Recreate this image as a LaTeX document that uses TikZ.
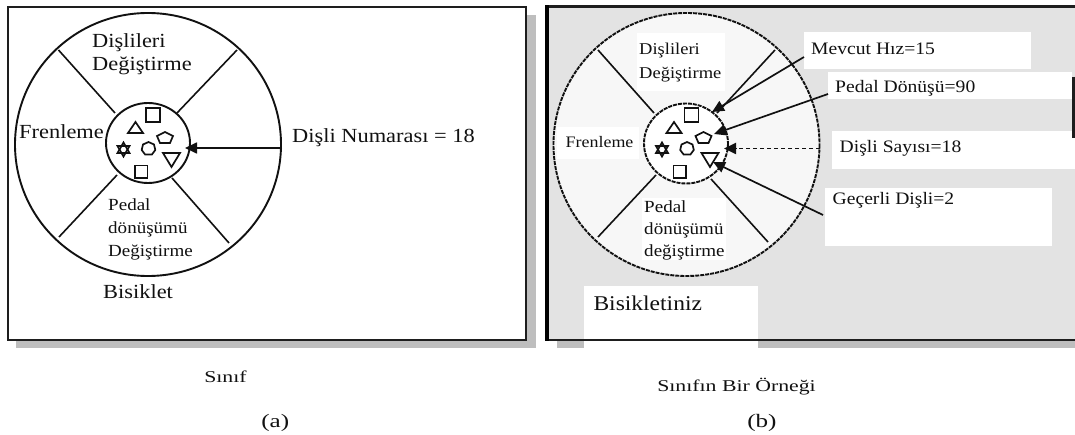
\documentclass[tikz,border=0pt]{standalone}
\usepackage{fontspec}
\setmainfont{Liberation Serif}
\usetikzlibrary{arrows.meta,shapes.geometric}

\definecolor{panelgrey}{HTML}{E3E3E3}
\definecolor{wheelfill}{HTML}{F7F7F7}
\definecolor{shadowgrey}{HTML}{BEBEBE}
\definecolor{framecol}{HTML}{1E1E1E}
\definecolor{inkcol}{HTML}{111111}

\tikzset{
  lbl/.style={inner sep=0pt, anchor=base west, text=inkcol, xscale=1.12},
  capt/.style={inner sep=0pt, anchor=base west, text=inkcol, xscale=1.32},
  fsa/.style={font=\fontsize{20}{23}\selectfont},
  fsb/.style={font=\fontsize{17}{20}\selectfont},
  fsc/.style={font=\fontsize{16.5}{20}\selectfont},
  fsd/.style={font=\fontsize{17.5}{20}\selectfont},
  fse/.style={font=\fontsize{16}{20}\selectfont},
  fsf/.style={font=\fontsize{21}{24}\selectfont},
  fsg/.style={font=\fontsize{16.5}{20}\selectfont},
  fsh/.style={font=\fontsize{19}{22}\selectfont},
  spoke/.style={draw=inkcol, line width=1.6pt},
  rim/.style={draw=inkcol, line width=1.9pt},
  rimdash/.style={draw=inkcol, line width=1.9pt, dash pattern=on 4pt off 1pt},
  glyph/.style={draw=inkcol, line width=1.7pt, line join=miter},
  pointer/.style={draw=inkcol, line width=1.7pt, -{Triangle[length=12pt,width=11pt]}},
  dotpointer/.style={draw=inkcol, line width=1.8pt, dash pattern=on 4pt off 3pt, -{Triangle[length=12pt,width=11pt]}},
  labelbox/.style={fill=white, draw=none},
}

% a text label whose base line starts at (#2,#3); #4 = label style, #5 = text
\newcommand\putlabel[5]{%
  \begin{scope}[shift={(#2,#3)}]
    \node[#4] (#1) at (0,0) {#5};
  \end{scope}}

% the small symbols held in the hub of a wheel; #1 shifts them sideways
\newcommand\hubsymbols[1]{%
  \begin{scope}[shift={(#1,0)}]
    \draw[glyph] (146,108) rectangle (160,122);
    \draw[glyph] (128,133) -- (143,133) -- (135.5,122) -- cycle;
    \draw[glyph] (165,132) -- (173,136) -- (170,143) -- (160,143) -- (157,136) -- cycle;
    \draw[glyph] (123.5,142.5) -- (129.5,153) -- (117.5,153) -- cycle;
    \draw[glyph] (123.5,156.5) -- (129.5,146) -- (117.5,146) -- cycle;
    \draw[glyph] (148.5,142) -- (154,144.5) -- (155.3,150) -- (151.8,154.6) -- (145.2,154.6) -- (141.7,150) -- (143,144.5) -- cycle;
    \draw[glyph] (163,153) -- (180,153) -- (171.5,167) -- cycle;
    \draw[glyph] (135,165.5) rectangle (147.5,178);
  \end{scope}}

\begin{document}
\begin{tikzpicture}[x=1pt,y=-1pt]
\useasboundingbox (0,0) rectangle (1075,435);
\fill[white] (0,0) rectangle (1075,435);

% ---------------- (a) the class ----------------
\fill[shadowgrey] (16,15) rectangle (536,348);
\fill[white] (8,7) rectangle (526,340);
\draw[framecol, line width=2.2pt] (8,7) rectangle (526,340);

\draw[spoke] (58.5,50) -- (115,113);
\draw[spoke] (237,50) -- (177,113);
\draw[spoke] (59,237) -- (117,175);
\draw[spoke] (229,243) -- (172,178);
\draw[rim] (148,144.5) ellipse [x radius=133, y radius=131.5];
\draw[rim, fill=white] (148,143) ellipse [x radius=42, y radius=40];
\hubsymbols{0}

\putlabel{aGear1}{92}{47.3}{lbl,fsa}{Dişlileri}
\putlabel{aGear2}{92}{71}{lbl,fsa}{Değiştirme}
\putlabel{aBrake}{19}{138.3}{lbl,fsa}{Frenleme}
\putlabel{aCount}{292}{142.7}{lbl,fsa}{Dişli Numarası = 18}
\putlabel{aPedal1}{108}{211}{lbl,fsb}{Pedal}
\putlabel{aPedal2}{108}{233.5}{lbl,fsb}{dönüşümü}
\putlabel{aPedal3}{108}{256.5}{lbl,fsb}{Değiştirme}
\putlabel{aBike}{103}{298.3}{lbl,fsa}{Bisiklet}

\coordinate (aFrom) at (282,148);
\coordinate (aTo) at (185,148);
\draw[pointer] (aFrom) -- (aTo);

% ---------------- (b) an instance ----------------
\fill[shadowgrey] (557,15) rectangle (1085,348);
\fill[panelgrey] (547,7) rectangle (1080,340);
\fill[wheelfill] (686.5,144.5) ellipse [x radius=133, y radius=131.5];

\fill[labelbox] (637,33) rectangle (725,91);
\fill[labelbox] (804,32) rectangle (1031,69);
\fill[labelbox] (828,72) rectangle (1072,99);
\fill[labelbox] (832,131) rectangle (1075,169);
\fill[labelbox] (825,188) rectangle (1052,246);
\fill[labelbox] (557,127) rectangle (639,159);
\fill[labelbox] (642,198) rectangle (726,260);
\fill[labelbox] (583.5,286) rectangle (758,349);

\draw[framecol, line width=2.2pt] (1080,6.5) -- (547,6.5) -- (547,340) -- (1080,340);
\draw[black, line width=3.2pt] (547,5.5) -- (547,341);
\draw[framecol, line width=2.2pt] (1073.5,77) -- (1073.5,138);

\draw[spoke] (598,50) -- (654,113);
\draw[spoke] (775,50) -- (717,113);
\draw[spoke] (598,237) -- (656,175);
\draw[spoke] (768,242) -- (711,179);
\draw[rimdash] (686.5,144.5) ellipse [x radius=133, y radius=131.5];
\draw[rimdash, fill=white] (686,143.5) ellipse [x radius=42, y radius=40];
\hubsymbols{538.5}

\putlabel{bGear1}{639}{55}{lbl,fsc}{Dişlileri}
\putlabel{bGear2}{639}{78.3}{lbl,fsc}{Değiştirme}
\putlabel{bSpeed}{811}{55}{lbl,fsd}{Mevcut Hız=15}
\putlabel{bCadence}{835}{92.7}{lbl,fsd}{Pedal Dönüşü=90}
\putlabel{bCount}{839.5}{152.3}{lbl,fsd}{Dişli Sayısı=18}
\putlabel{bCurrent}{832.5}{205}{lbl,fsd}{Geçerli Dişli=2}
\putlabel{bBrake}{565.5}{147.7}{lbl,fse}{Frenleme}
\putlabel{bPedal1}{644}{212.7}{lbl,fsb}{Pedal}
\putlabel{bPedal2}{644}{235}{lbl,fsb}{dönüşümü}
\putlabel{bPedal3}{644}{256.7}{lbl,fsb}{değiştirme}
\putlabel{bBike}{593.3}{310.7}{lbl,fsf}{Bisikletiniz}

\coordinate (bSpeedFrom) at (804,57);
\coordinate (bSpeedTo) at (712,112);
\coordinate (bCadFrom) at (828,94);
\coordinate (bCadTo) at (714,134);
\coordinate (bCountFrom) at (820,148.5);
\coordinate (bCountTo) at (724,148.5);
\coordinate (bCurFrom) at (823,215);
\coordinate (bCurTo) at (713,162);
\draw[pointer] (bSpeedFrom) -- (bSpeedTo);
\draw[pointer] (bCadFrom) -- (bCadTo);
\draw[dotpointer] (bCountFrom) -- (bCountTo);
\draw[pointer] (bCurFrom) -- (bCurTo);

% ---------------- captions ----------------
\putlabel{capA}{204}{382}{capt,fsg}{Sınıf}
\putlabel{capB}{657}{391.7}{capt,fsg}{Sınıfın Bir Örneği}
\putlabel{tagA}{261}{427}{capt,fsh}{(a)}
\putlabel{tagB}{747}{427}{capt,fsh}{(b)}
\end{tikzpicture}
\end{document}
